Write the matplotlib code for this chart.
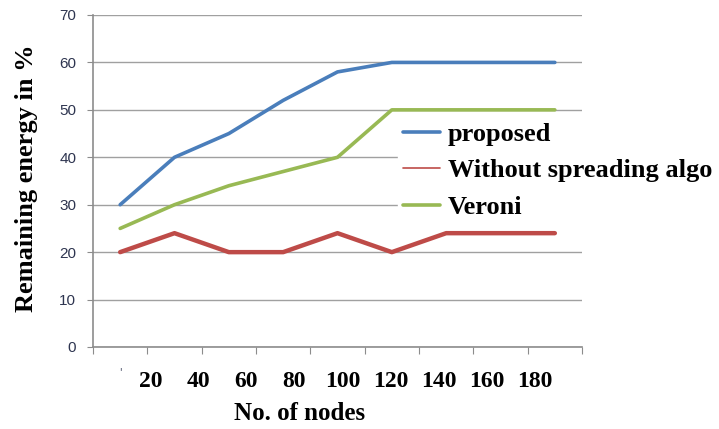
import numpy as np
import matplotlib
matplotlib.use('Agg')
import matplotlib.pyplot as plt

# data (9 node-count categories)
categories = list(range(9))
proposed = [30, 40, 45, 52, 58, 60, 60, 60, 60]
without_spreading = [20, 24, 20, 20, 24, 20, 24, 24, 24]
veroni = [25, 30, 34, 37, 40, 50, 50, 50, 50]
tick_labels = ['20', '40', '60', '80', '100', '120', '140', '160', '180']
y_ticks = [0, 10, 20, 30, 40, 50, 60, 70]

serif = {'family': 'Liberation Serif', 'weight': 'bold'}

fig = plt.figure(figsize=(7.19, 4.29), dpi=100)
ax = fig.add_axes([93 / 719, 1 - 347 / 429, (582 - 93) / 719, (347 - 15) / 429])

ax.plot(categories, proposed, color='#4a7ebb', lw=2.6, label='proposed', solid_capstyle='round')
ax.plot(categories, without_spreading, color='#be4b48', lw=3.2, label='Without spreading algo',
        solid_capstyle='round')
ax.plot(categories, veroni, color='#98b954', lw=2.6, label='Veroni', solid_capstyle='round')

ax.set_xlim(-0.5, 8.5)
ax.set_ylim(0, 70)
ax.set_yticks(y_ticks)
ax.yaxis.grid(True, color='#a0a0a0', lw=1)
ax.set_axisbelow(True)
for s in ['top', 'right']:
    ax.spines[s].set_visible(False)
ax.spines['left'].set_color('#8c8c8c')
ax.spines['bottom'].set_color('#8c8c8c')
ax.spines['left'].set_linewidth(1.2)
ax.spines['bottom'].set_linewidth(1.2)
ax.tick_params(axis='y', length=4, color='#8c8c8c', pad=8, labelsize=11, labelcolor='#2e3550')
for t in ax.get_yticklabels():
    t.set_family('Liberation Sans')

# tick marks on category boundaries, labels drawn separately (they are offset in the source)
ax.set_xticks(np.arange(-0.5, 9, 1))
ax.set_xticklabels([])
ax.tick_params(axis='x', length=5, color='#8c8c8c')
ax.text(0, -0.075, "'", transform=ax.get_xaxis_transform(), ha='center', va='center',
        fontsize=7, color='#2e3550')
for j, lbl in enumerate(tick_labels):
    ax.text(0.556 + 0.884 * j, -0.105, lbl, transform=ax.get_xaxis_transform(),
            ha='center', va='center', fontsize=17, **serif)

fig.text(300 / 719, 1 - 413 / 429, 'No. of nodes', ha='center', va='center', fontsize=18, **serif)
fig.text(27 / 719, 1 - 178 / 429, 'Remaining energy in %', rotation=90, ha='center', va='center',
         fontsize=19, **serif)

leg = ax.legend(loc='upper left', bbox_to_anchor=(398 / 719, 1 - 117 / 429),
                bbox_transform=fig.transFigure, frameon=True, prop={'family': 'Liberation Serif',
                                                                    'weight': 'bold', 'size': 19},
                handlelength=1.4, handletextpad=0.3, labelspacing=0.5, borderpad=0.2,
                borderaxespad=0)
leg.get_frame().set_facecolor('white')
leg.get_frame().set_edgecolor('white')
leg.get_frame().set_alpha(1)
leg.legend_handles[1].set_linewidth(1.2)

fig.savefig('out.png', dpi=100)
